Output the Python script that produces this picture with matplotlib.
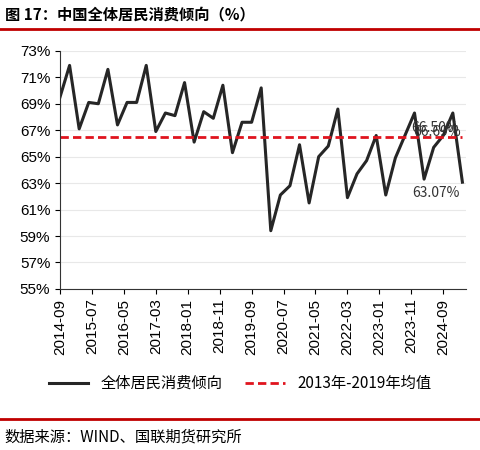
import matplotlib.pyplot as plt
import numpy as np

plt.rcParams['font.family'] = ['Noto Sans CJK SC', 'DejaVu Sans']

# 季度数据 2014Q3 - 2025Q1
values = [69.5, 71.9, 67.1, 69.1, 69.0, 71.6, 67.4, 69.1, 69.1, 71.9,
          66.9, 68.3, 68.1, 70.6, 66.1, 68.4, 67.9, 70.4, 65.3, 67.6,
          67.6, 70.2, 59.4, 62.1, 62.8, 65.9, 61.5, 65.0, 65.8, 68.6,
          61.9, 63.7, 64.7, 66.6, 62.1, 64.9, 66.6, 68.3, 63.3, 65.7,
          66.6, 68.3, 63.07]
avg_value = 66.50
tick_labels = ['2014-09', '2015-07', '2016-05', '2017-03', '2018-01', '2018-11',
               '2019-09', '2020-07', '2021-05', '2022-03', '2023-01', '2023-11',
               '2024-09']

months = np.arange(len(values)) * 3

fig = plt.figure(figsize=(4.8, 4.5), dpi=100)
ax = fig.add_axes([0.125, 0.358, 0.845, 0.529])

ax.plot(months, values, color='#262626', lw=2.2, label='全体居民消费倾向')
ax.plot(months, [avg_value] * len(months), color='#e0141e', lw=2, ls=(0, (3, 1.5)),
        label='2013年-2019年均值')

ax.text(months[-1] - 1, avg_value + 0.1, '66.50%', ha='right', va='bottom', fontsize=10, color='#333333')
ax.text(months[-1] - 0.5, avg_value - 0.15, '66.69%', ha='right', va='bottom', fontsize=10, color='#333333')
ax.text(months[-1] - 1, values[-1] - 0.3, '63.07%', ha='right', va='top', fontsize=10, color='#333333')

ax.set_ylim(55, 73)
ax.set_yticks(np.arange(55, 74, 2))
ax.set_yticklabels([f'{v}%' for v in range(55, 74, 2)], fontsize=11, family='Liberation Sans')
ax.set_xlim(0, 127)
ax.set_xticks(np.arange(0, 121, 10))
ax.set_xticklabels(tick_labels, rotation=90, fontsize=11, family='Liberation Sans')
ax.grid(axis='y', color='#e8e8e8', lw=0.8)
ax.set_axisbelow(True)
for s in ['top', 'right']:
    ax.spines[s].set_visible(False)
ax.spines['left'].set_color('#333333')
ax.spines['bottom'].set_color('#333333')

fig.legend(loc='center', bbox_to_anchor=(0.5, 0.148), ncol=2, frameon=False,
           fontsize=11, handlelength=2.6, columnspacing=1.5)

fig.text(0.01, 0.968, '图 17：中国全体居民消费倾向（%）', fontsize=11, va='center', weight='bold')
fig.add_artist(plt.Line2D([0, 1], [0.935, 0.935], color='#c00000', lw=2))
fig.add_artist(plt.Line2D([0, 1], [0.068, 0.068], color='#c00000', lw=2))
fig.text(0.01, 0.028, '数据来源：WIND、国联期货研究所', fontsize=11, va='center')

fig.savefig('out.png', dpi=100)
